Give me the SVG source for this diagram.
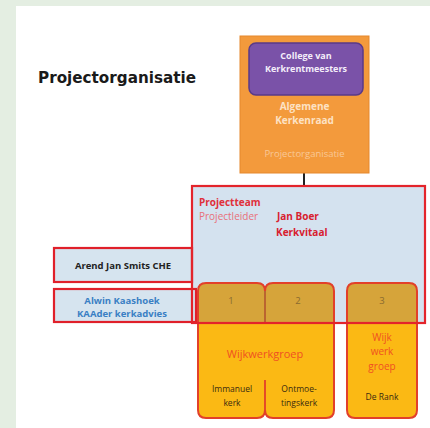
<svg xmlns="http://www.w3.org/2000/svg" width="430" height="428" viewBox="0 0 430 428">
<style>
  text { font-family: "Open Sans", "Liberation Sans", sans-serif; text-anchor: middle; }
  .b { font-weight: bold; }
  .grp { fill: #fbb914; }
  .grpTop { fill: #d6a43a; }
  .grpLine { fill: none; stroke: #e2402a; stroke-width: 2; }
  .side { fill: #d6e4ef; stroke: #e0202a; stroke-width: 2.2; }
  .num { font-size: 9.5px; fill: #8a6a30; }
  .small { font-size: 8.5px; fill: #3a2a10; }
</style>
<defs>
  <path id="leftShape" d="M206,283 H257 Q265,283 265,291 Q265,283 273,283 H326 Q334,283 334,291 V410 Q334,418 326,418 H273 Q265,418 265,410 Q265,418 257,418 H206 Q198,418 198,410 V291 Q198,283 206,283 Z"/>
  <path id="rightShape" d="M355,283 H409 Q417,283 417,291 V410 Q417,418 409,418 H355 Q347,418 347,410 V291 Q347,283 355,283 Z"/>
  <clipPath id="topClip"><rect x="0" y="280" width="430" height="43"/></clipPath>
</defs>
<rect x="0" y="0" width="430" height="428" fill="#e4eee2"/>
<rect x="16" y="6" width="414" height="422" fill="#ffffff"/>

<text x="38" y="83" class="b" style="text-anchor:start;font-family:'DejaVu Sans','Liberation Sans',sans-serif;font-size:16px;fill:#1a1a1a" textLength="158" lengthAdjust="spacingAndGlyphs">Projectorganisatie</text>

<g id="connectors">
  <line x1="304" y1="173" x2="304" y2="186" stroke="#222" stroke-width="2"/>
</g>

<g id="algemene-kerkenraad">
  <rect x="240" y="36" width="129" height="137" fill="#f39a3c" stroke="#e5882c" stroke-width="1"/>
  <text x="304.5" y="110" class="b" style="font-size:10px;fill:#fde2c4">Algemene</text>
  <text x="304.5" y="124" class="b" style="font-size:10px;fill:#fde2c4">Kerkenraad</text>
  <text x="304.5" y="157" style="font-size:9.5px;fill:#f9c897">Projectorganisatie</text>
</g>

<g id="college">
  <rect x="249" y="43" width="114" height="52" rx="7" fill="#7a52a8" stroke="#5a3a88" stroke-width="1.5"/>
  <text x="306" y="59" class="b" style="font-size:9px;fill:#f4eefa">College van</text>
  <text x="306" y="72" class="b" style="font-size:9px;fill:#f4eefa">Kerkrentmeesters</text>
</g>

<g id="projectteam">
  <rect x="192" y="186" width="233" height="137" fill="#d4e2ef"/>
  <text x="199" y="206" class="b" style="text-anchor:start;font-size:10px;fill:#e0303a">Projectteam</text>
  <text x="199" y="220" style="text-anchor:start;font-size:10px;fill:#e8707a">Projectleider</text>
  <text x="277" y="220" class="b" style="text-anchor:start;font-size:10px;fill:#d8202f">Jan Boer</text>
  <text x="276" y="236" class="b" style="text-anchor:start;font-size:10px;fill:#d8202f">Kerkvitaal</text>
</g>

<g id="arend">
  <rect x="54" y="248" width="138" height="34" class="side"/>
  <text x="123" y="268.5" class="b" style="font-size:9.5px;fill:#222">Arend Jan Smits CHE</text>
</g>

<g id="alwin">
  <rect x="54" y="289" width="142" height="33" class="side"/>
  <text x="122" y="304" class="b" style="font-size:9.5px;fill:#3a7fc4">Alwin Kaashoek</text>
  <text x="122" y="317" class="b" style="font-size:9.5px;fill:#3a7fc4">KAAder kerkadvies</text>
</g>

<g id="wijkwerkgroep-1-2">
  <use href="#leftShape" class="grp"/>
  <use href="#leftShape" class="grpTop" clip-path="url(#topClip)"/>
  <use href="#leftShape" class="grpLine"/>
  <line x1="265" y1="291" x2="265" y2="323" stroke="#b0502e" stroke-width="1.5"/>
  <line x1="265" y1="380" x2="265" y2="410" stroke="#e2402a" stroke-width="1.8"/>
  <text x="231" y="304" class="num">1</text>
  <text x="298" y="304" class="num">2</text>
  <text x="265" y="358" style="font-size:11px;fill:#f05022">Wijkwerkgroep</text>
  <text x="232" y="392" class="small">Immanuel</text>
  <text x="232" y="406" class="small">kerk</text>
  <text x="299" y="392" class="small">Ontmoe-</text>
  <text x="299" y="406" class="small">tingskerk</text>
</g>

<g id="wijkwerkgroep-3">
  <use href="#rightShape" class="grp"/>
  <use href="#rightShape" class="grpTop" clip-path="url(#topClip)"/>
  <use href="#rightShape" class="grpLine"/>
  <text x="382" y="304" class="num">3</text>
  <text x="382" y="341" style="font-size:10px;fill:#f05022">Wijk</text>
  <text x="382" y="355" style="font-size:10px;fill:#f05022">werk</text>
  <text x="382" y="370" style="font-size:10px;fill:#f05022">groep</text>
  <text x="382" y="400" class="small">De Rank</text>
</g>

<g id="projectteam-border">
  <rect x="192" y="186" width="233" height="137" fill="none" stroke="#e3242b" stroke-width="2.2"/>
</g>
</svg>
